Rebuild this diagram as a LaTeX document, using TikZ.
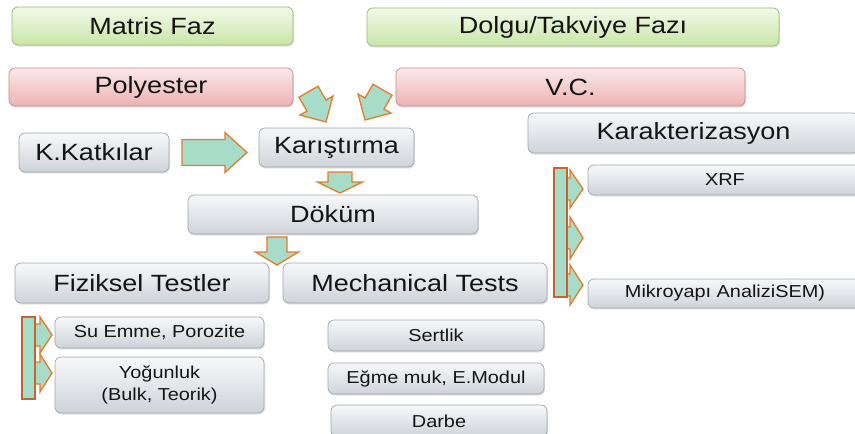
\documentclass[tikz,border=0pt]{standalone}
\usepackage{fontspec}
\setmainfont{Liberation Sans}[FakeStretch=1.15]
\usetikzlibrary{shadows}
\definecolor{txt}{RGB}{20,20,20}
\definecolor{grnT}{RGB}{242,249,232}
\definecolor{grnB}{RGB}{200,230,168}
\definecolor{grnD}{RGB}{150,188,110}
\definecolor{pnkT}{RGB}{251,233,233}
\definecolor{pnkB}{RGB}{236,178,178}
\definecolor{pnkD}{RGB}{205,135,135}
\definecolor{gryT}{RGB}{247,248,250}
\definecolor{gryB}{RGB}{206,211,217}
\definecolor{gryD}{RGB}{160,166,172}
\definecolor{arrF}{RGB}{166,220,200}
\definecolor{arrO}{RGB}{232,122,40}
\definecolor{barO}{RGB}{196,100,48}
\newcommand\blockarr[6]{%
  \begin{scope}[shift={(#1)},rotate=#2]
    \draw[arr] (0,#4) -- ({#3-#6},#4) -- ({#3-#6},#5) -- (#3,0) -- ({#3-#6},-#5) -- ({#3-#6},-#4) -- (0,-#4) -- cycle;
  \end{scope}}
\tikzset{
  base/.style={rounded corners=6pt, draw, line width=0.7pt, text=txt, inner sep=0pt,
    drop shadow={shadow xshift=1pt, shadow yshift=-1.6pt, opacity=0.22}},
  gbox/.style={base, draw=grnD, top color=grnT, bottom color=grnB},
  pbox/.style={base, draw=pnkD, top color=pnkT, bottom color=pnkB},
  ybox/.style={base, draw=gryD, top color=gryT, bottom color=gryB},
  big/.style={font=\fontsize{23.5}{27}\selectfont},
  small/.style={font=\fontsize{17.3}{22}\selectfont, align=center},
  arr/.style={draw=arrO, fill=arrF, line width=1.3pt, line join=miter},
  bar/.style={draw=barO, fill=arrF, line width=1.3pt}
}
\begin{document}
\begin{tikzpicture}[x=1pt,y=-1pt]
\useasboundingbox (0,0) rectangle (855,434);
\fill[white] (0,0) rectangle (855,434);
\clip (0,0) rectangle (855,434);
% top phase boxes
\node[gbox,big,minimum width=281,minimum height=38] (matris) at (152.5,26) {Matris Faz};
\node[gbox,big,minimum width=412,minimum height=38] (dolgu) at (573,27) {Dolgu/Takviye Fazı};
\node[pbox,big,minimum width=284,minimum height=38] (poly) at (151,87) {Polyester};
\node[pbox,big,minimum width=349,minimum height=38] (vc) at (570.5,87) {V.C.};
% process boxes
\node[ybox,big,minimum width=150,minimum height=39] (katki) at (94,152.5) {K.Katkılar};
\node[ybox,big,minimum width=155,minimum height=39] (karis) at (336.5,147.5) {Karıştırma};
\node[ybox,big,minimum width=331,minimum height=40] (karak) at (693.5,133) {Karakterizasyon};
\node[ybox,small,minimum width=274,minimum height=30] (xrf) at (725,180) {XRF};
\node[ybox,small,minimum width=274,minimum height=29] (mikro) at (725,293.5) {Mikroyapı AnaliziSEM)};
\node[ybox,big,minimum width=290,minimum height=39] (dokum) at (333,214.5) {Döküm};
\node[ybox,big,minimum width=254,minimum height=40] (fiz) at (142,283) {Fiziksel Testler};
\node[ybox,big,minimum width=264,minimum height=40] (mech) at (415,283) {Mechanical Tests};
\node[ybox,small,minimum width=209,minimum height=31] (su) at (159.5,332.5) {Su Emme, Porozite};
\node[ybox,small,minimum width=209,minimum height=56] (yog) at (159.5,385) {Yoğunluk\\(Bulk, Teorik)};
\node[ybox,small,minimum width=216,minimum height=31] (sert) at (436,335.5) {Sertlik};
\node[ybox,small,minimum width=216,minimum height=31] (egme) at (436,378.5) {Eğme muk, E.Modul};
\node[ybox,small,minimum width=216,minimum height=32] (darbe) at (439,421) {Darbe};
% block arrows
\blockarr{182,152.5}{0}{65}{13}{20}{22}
\blockarr{308.5,91.7}{-60}{35}{11}{19}{19}
\blockarr{382.5,89.7}{-120}{35}{11}{19}{19}
\blockarr{340,172}{-90}{21}{12}{22.5}{11}
\blockarr{277,237}{-90}{28}{10}{21.5}{13}
% left bracket list
\blockarr{35,335}{0}{17}{11}{18}{12}
\blockarr{35,373}{0}{17}{11}{19}{12}
\draw[bar] (22,317) rectangle (35,399);
% right bracket list
\blockarr{567,189}{0}{16}{11}{19}{13}
\blockarr{567,238}{0}{16}{11}{21}{13}
\blockarr{567,285}{0}{16}{11}{20}{13}
\draw[bar] (554,168) rectangle (567,297);
\end{tikzpicture}
\end{document}
